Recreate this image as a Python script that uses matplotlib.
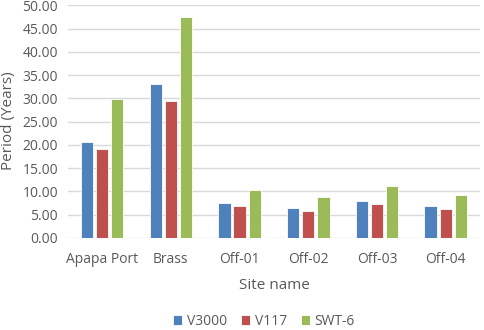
import matplotlib
matplotlib.use("Agg")
import matplotlib.pyplot as plt
import numpy as np

sites = ["Apapa Port", "Brass", "Off-01", "Off-02", "Off-03", "Off-04"]
series_names = ["V3000", "V117", "SWT-6"]
v3000 = [20.6, 33.0, 7.5, 6.4, 7.9, 6.9]
v117 = [19.2, 29.5, 6.8, 5.7, 7.2, 6.2]
swt6 = [29.8, 47.5, 10.4, 8.7, 11.2, 9.3]
yticks = [0, 5, 10, 15, 20, 25, 30, 35, 40, 45, 50]

colors = ["#4F81BD", "#C0504D", "#9BBB59"]
plt.rcParams['font.family'] = ['Open Sans', 'DejaVu Sans']

fig = plt.figure(figsize=(4.84, 3.30), dpi=100)
ax = fig.add_axes([0.140, 0.279, 0.852, 0.705])

x = np.arange(len(sites))
w = 0.18
step = 0.22
for i, (vals, name, c) in enumerate(zip([v3000, v117, swt6], series_names, colors)):
    ax.bar(x + (i - 1) * step, vals, width=w, color=c, edgecolor='white', linewidth=0.6, label=name, zorder=3)

ax.set_ylim(0, 50)
ax.set_xlim(-0.5, len(sites) - 0.5)
ax.set_yticks(yticks)
ax.set_yticklabels([f"{t:.2f}" for t in yticks])
ax.set_xticks(x)
ax.set_xticklabels(sites)
ax.yaxis.grid(True, color='#D9D9D9', linewidth=1.0, zorder=0)
for s in ax.spines.values():
    s.set_visible(False)
ax.tick_params(axis='both', length=0, colors='#595959', labelsize=10)
ax.tick_params(axis='y', pad=7)
ax.tick_params(axis='x', pad=10)
fig.text(9 / 484, 1 - 121 / 330, "Period (Years)", rotation=90, ha='center', va='center',
         color='#595959', fontsize=11)
ax.set_xlabel("Site name", color='#595959', fontsize=11, labelpad=8)

leg = fig.legend(loc='lower center', bbox_to_anchor=(0.545, -0.035), ncol=3, frameon=False,
                 fontsize=10, handlelength=0.7, handleheight=0.7, handletextpad=0.3, columnspacing=1.0)
for t in leg.get_texts():
    t.set_color('#595959')

fig.savefig("out.png", dpi=100)
